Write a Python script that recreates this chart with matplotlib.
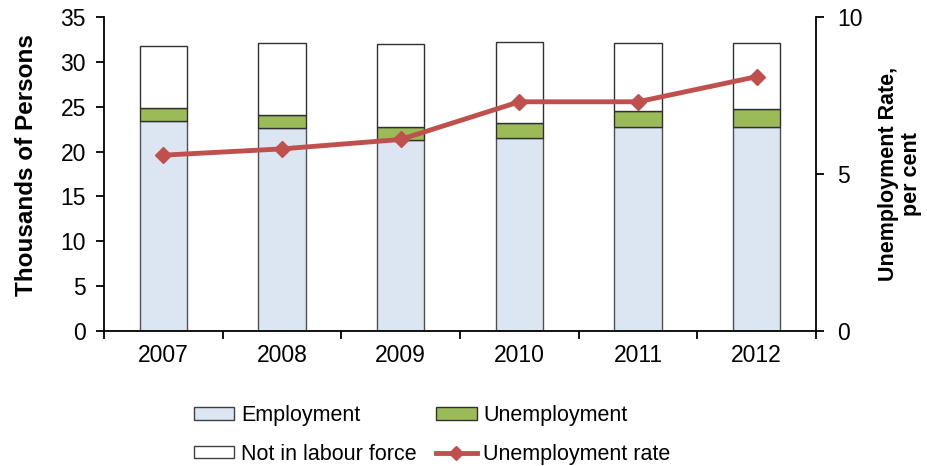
import matplotlib
matplotlib.use("Agg")
import matplotlib.pyplot as plt
import numpy as np
from matplotlib.lines import Line2D
from matplotlib.patches import Patch

plt.rcParams['font.family'] = ['Liberation Sans', 'DejaVu Sans']

years = ["2007", "2008", "2009", "2010", "2011", "2012"]
employment = [23.4, 22.6, 21.3, 21.5, 22.7, 22.7]
unemployment = [1.5, 1.5, 1.4, 1.7, 1.8, 2.0]
not_in_labour_force = [6.9, 8.0, 9.3, 9.0, 7.6, 7.4]
unemployment_rate = [5.6, 5.8, 6.1, 7.3, 7.3, 8.1]

c_emp = "#DCE6F2"
c_unemp = "#9BBB59"
c_nilf = "#FFFFFF"
c_rate = "#C0504D"

fig = plt.figure(figsize=(9.27, 4.66), dpi=100)
ax = fig.add_axes([104 / 927, 1 - 331 / 466, (816 - 104) / 927, (331 - 17) / 466])

x = np.arange(len(years))
w = 0.40
emp = np.array(employment)
une = np.array(unemployment)
nil = np.array(not_in_labour_force)
ax.bar(x, emp, w, color=c_emp, edgecolor="#505050", linewidth=1.0, zorder=2)
ax.bar(x, une, w, bottom=emp, color=c_unemp, edgecolor="#303030", linewidth=1.0, zorder=2)
ax.bar(x, nil, w, bottom=emp + une, color=c_nilf, edgecolor="#303030", linewidth=1.0, zorder=2)

ax.set_xlim(-0.5, len(years) - 0.5)
ax.set_ylim(0, 35)
ax.set_yticks(np.arange(0, 36, 5))
ax.set_xticks(x)
ax.set_xticklabels(years)
ax.set_xticks(np.arange(-0.5, len(years), 1.0), minor=True)
ax.tick_params(axis="x", which="major", length=0, pad=9, labelsize=16.5)
ax.tick_params(axis="x", which="minor", length=6, width=1.3, direction="out")
ax.tick_params(axis="y", length=6, width=1.3, direction="out", labelsize=16.5, pad=7)
for s in ["top", "right"]:
    ax.spines[s].set_visible(False)
for s in ["left", "bottom"]:
    ax.spines[s].set_linewidth(1.3)
ax.set_ylabel("Thousands of Persons", fontsize=17.5, fontweight="bold")
ax.yaxis.set_label_coords(-0.092, 0.53)

ax2 = ax.twinx()
ax2.plot(x, unemployment_rate, color=c_rate, linewidth=3.5, marker="D", markersize=8, zorder=5)
ax2.set_ylim(0, 10)
ax2.set_yticks([0, 5, 10])
ax2.tick_params(axis="y", length=6, width=1.3, direction="out", labelsize=16.5, pad=9)
for s in ["top", "left", "bottom"]:
    ax2.spines[s].set_visible(False)
ax2.spines["right"].set_linewidth(1.3)
ax2.set_ylabel("Unemployment Rate,\nper cent", fontsize=15.5, fontweight="bold", linespacing=1.15)
ax2.yaxis.set_label_coords(1.087, 0.5)

handles = [
    Patch(facecolor=c_emp, edgecolor="#404040", linewidth=1.0),
    Patch(facecolor=c_nilf, edgecolor="#404040", linewidth=1.0),
    Patch(facecolor=c_unemp, edgecolor="#303030", linewidth=1.0),
    Line2D([0], [0], color=c_rate, linewidth=3.5, marker="D", markersize=7),
]
labels = ["Employment", "Not in labour force", "Unemployment", "Unemployment rate"]
fig.legend(handles, labels, ncol=2, loc="center", bbox_to_anchor=(432 / 927, 1 - 435 / 466),
           frameon=False, fontsize=15.5, handlelength=1.9, handleheight=0.5,
           handletextpad=0.3, columnspacing=0.9, labelspacing=0.83, borderpad=0.2)

fig.savefig("out.png", dpi=100)
